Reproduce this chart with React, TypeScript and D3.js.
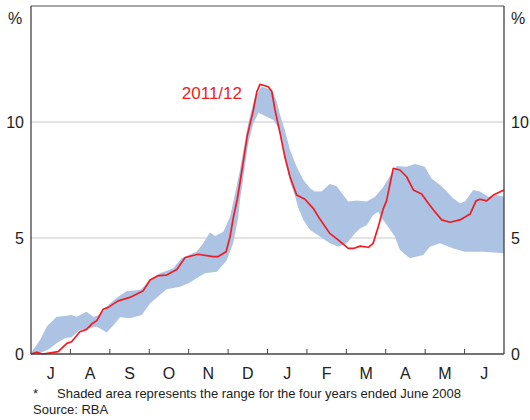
import React from "react";
import * as d3 from "d3";

// Month positions are measured in months from the start of July
const months = ["J", "A", "S", "O", "N", "D", "J", "F", "M", "A", "M", "J"];
const yTicks = [0, 5, 10];

// 2011/12 line
const redT = [0, 0.15, 0.3, 0.69, 0.91, 1.03, 1.24, 1.41, 1.54, 1.67, 1.83, 1.96, 2.21, 2.51, 2.85, 3.02, 3.23, 3.44, 3.7, 3.91, 4.24, 4.62, 4.75, 4.95, 5.05, 5.13, 5.23, 5.3, 5.49, 5.64, 5.73, 5.81, 6.02, 6.11, 6.19, 6.32, 6.44, 6.57, 6.74, 6.95, 7.16, 7.29, 7.58, 7.8, 8.05, 8.18, 8.35, 8.56, 8.68, 8.81, 8.94, 9.02, 9.19, 9.36, 9.53, 9.7, 9.91, 10.08, 10.21, 10.42, 10.63, 10.88, 11.14, 11.29, 11.39, 11.56, 11.73, 12];
const redV = [0, 0.07, 0.0, 0.1, 0.46, 0.53, 0.96, 1.06, 1.29, 1.44, 1.93, 2.01, 2.29, 2.44, 2.73, 3.19, 3.38, 3.4, 3.64, 4.16, 4.3, 4.2, 4.2, 4.41, 5.06, 5.85, 6.64, 7.36, 9.44, 10.5, 11.31, 11.62, 11.52, 11.31, 10.52, 9.51, 8.5, 7.64, 6.85, 6.67, 6.28, 5.92, 5.2, 4.91, 4.55, 4.55, 4.65, 4.6, 4.77, 5.49, 6.28, 6.6, 8.0, 7.93, 7.64, 7.07, 6.9, 6.5, 6.21, 5.78, 5.68, 5.78, 6.03, 6.6, 6.67, 6.6, 6.85, 7.07];

// Range for the four years ended June 2008: upper edge
const upT = [0, 0.23, 0.4, 0.65, 0.86, 1.03, 1.16, 1.41, 1.58, 1.75, 2.0, 2.21, 2.43, 2.77, 2.98, 3.27, 3.61, 3.82, 4.2, 4.37, 4.54, 4.67, 4.88, 5.05, 5.18, 5.3, 5.51, 5.68, 5.85, 6.11, 6.23, 6.32, 6.44, 6.57, 6.74, 6.91, 7.08, 7.2, 7.37, 7.46, 7.58, 7.75, 7.92, 8.05, 8.26, 8.52, 8.73, 8.94, 9.15, 9.28, 9.53, 9.74, 9.99, 10.16, 10.38, 10.55, 10.71, 10.88, 11.01, 11.22, 11.39, 11.6, 11.81, 12];
const upV = [0.05, 0.6, 1.18, 1.61, 1.64, 1.68, 1.61, 1.82, 1.61, 1.68, 2.18, 2.47, 2.72, 2.76, 3.12, 3.48, 3.7, 4.13, 4.41, 4.77, 5.24, 5.09, 5.27, 5.92, 6.93, 7.93, 9.94, 11.09, 11.52, 11.38, 10.9, 10.3, 9.66, 8.79, 8.07, 7.5, 7.14, 7.0, 7.0, 7.14, 7.33, 7.24, 6.85, 6.57, 6.62, 6.57, 6.78, 7.21, 7.79, 8.1, 8.07, 8.19, 8.07, 7.57, 7.28, 7.0, 6.71, 6.5, 6.57, 7.07, 7.0, 6.78, 6.85, 6.78];

// lower edge
const loT = [0, 0.31, 0.48, 0.65, 0.86, 1.03, 1.24, 1.45, 1.67, 1.92, 2.13, 2.26, 2.51, 2.81, 3.02, 3.27, 3.44, 3.78, 3.99, 4.2, 4.41, 4.71, 4.96, 5.13, 5.26, 5.3, 5.51, 5.64, 5.77, 5.98, 6.15, 6.27, 6.4, 6.49, 6.57, 6.7, 6.78, 6.91, 7.08, 7.33, 7.58, 7.8, 8.01, 8.22, 8.35, 8.52, 8.68, 8.81, 8.9, 9.06, 9.23, 9.36, 9.61, 9.95, 10.12, 10.38, 10.71, 11.01, 11.47, 12];
const loV = [0, 0.1, 0.24, 0.46, 0.68, 0.72, 1.03, 1.1, 1.18, 0.93, 1.32, 1.58, 1.54, 1.68, 2.18, 2.54, 2.79, 2.9, 3.04, 3.26, 3.48, 3.55, 4.02, 4.77, 5.92, 6.6, 9.08, 9.94, 10.4, 10.23, 10.09, 9.76, 8.94, 8.07, 7.45, 6.8, 6.3, 5.78, 5.34, 5.06, 4.77, 4.62, 4.77, 5.2, 5.41, 5.56, 5.99, 6.13, 5.85, 5.49, 5.06, 4.48, 4.13, 4.27, 4.62, 4.77, 4.55, 4.41, 4.41, 4.34];

const W = 530;
const H = 420;
const left = 31;
const right = 504;
const top = 6;
const bottom = 354;
const font = "Arial, 'Liberation Sans', Helvetica, sans-serif";

export default function App() {
  const x = d3.scaleLinear().domain([0, 12]).range([left, right]);
  const y = d3.scaleLinear().domain([0, 15]).range([bottom, top]);

  const bandPts: [number, number][] = [
    ...upT.map((t, i) => [t, upV[i]] as [number, number]),
    ...loT.map((t, i) => [t, loV[i]] as [number, number]).reverse(),
  ];
  const band = d3
    .line<[number, number]>()
    .x((d) => x(d[0]))
    .y((d) => y(d[1]))
    .curve(d3.curveLinearClosed)(bandPts);

  const red = d3
    .line<number>()
    .x((d) => x(d))
    .y((_, i) => y(redV[i]))
    .curve(d3.curveLinear)(redT);

  const tickMonths = d3.range(1, 12);

  return (
    <svg width={W} height={H} style={{ position: "absolute", left: 0, top: 0 }} fontFamily={font}>
      <rect x={0} y={0} width={W} height={H} fill="#fff" />
      {yTicks.filter((v) => v > 0).map((v) => (
        <line key={v} x1={left} x2={right} y1={y(v)} y2={y(v)} stroke="#c8c8c8" strokeWidth={1.2} />
      ))}
      <path d={band ?? ""} fill="#adc3e3" stroke="none" />
      <path d={red ?? ""} fill="none" stroke="#ee1c25" strokeWidth={1.7} strokeLinejoin="round" />
      {/* frame */}
      <line x1={left} x2={right} y1={top} y2={top} stroke="#8a8a8a" strokeWidth={1.5} />
      <line x1={left} x2={left} y1={top} y2={bottom} stroke="#333" strokeWidth={1.2} />
      <line x1={right} x2={right} y1={top} y2={bottom} stroke="#333" strokeWidth={1.2} />
      <line x1={left} x2={right} y1={bottom} y2={bottom} stroke="#444" strokeWidth={1.5} />
      {tickMonths.map((m) => (
        <line key={m} x1={x(m)} x2={x(m)} y1={bottom} y2={bottom - 5} stroke="#444" strokeWidth={1} />
      ))}
      {yTicks.map((v) => (
        <g key={v} fontSize={16} fill="#222">
          <text x={24} y={y(v) + 6} textAnchor="end">{v}</text>
          <text x={511} y={y(v) + 6} textAnchor="start">{v}</text>
        </g>
      ))}
      <text x={8} y={24} fontSize={16} fill="#222">%</text>
      <text x={511} y={24} fontSize={16} fill="#222">%</text>
      {months.map((mo, i) => (
        <text key={i} x={x(i + 0.5)} y={379} fontSize={16} fill="#222" textAnchor="middle">{mo}</text>
      ))}
      <text x={242} y={99} fontSize={17} fill="#ee1c25" textAnchor="end">2011/12</text>
      <text x={33} y={398} fontSize={13} fill="#222">*</text>
      <text x={57} y={398} fontSize={13} fill="#222">Shaded area represents the range for the four years ended June 2008</text>
      <text x={33} y={414} fontSize={13} fill="#222">Source: RBA</text>
    </svg>
  );
}
